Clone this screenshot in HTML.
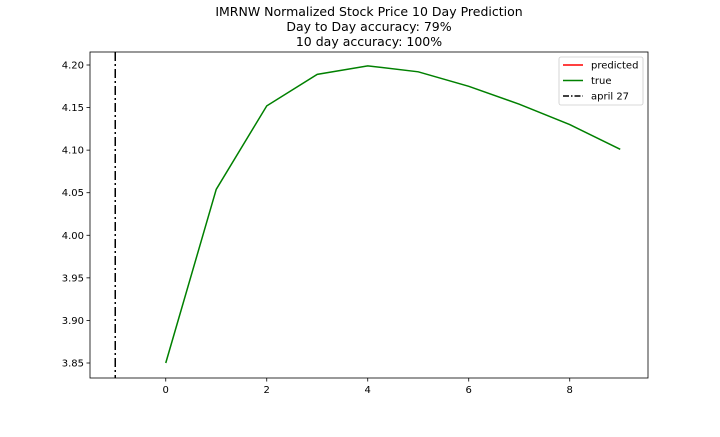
<!DOCTYPE html>
<html><head><meta charset="utf-8">
<style>
body{margin:0;background:#fff;}
svg text{font-family:"DejaVu Sans","Liberation Sans",sans-serif;fill:#000;}
</style></head>
<body>
<svg id="chart" width="720" height="432" xmlns="http://www.w3.org/2000/svg">
<rect width="720" height="432" fill="#fff"/>
<g font-size="12.5" text-anchor="middle">
<text x="369" y="16">IMRNW Normalized Stock Price 10 Day Prediction</text>
<text x="369" y="31">Day to Day accuracy: 79%</text>
<text x="369" y="46">10 day accuracy: 100%</text>
</g>
<g id="plot"></g>
</svg>
<script>
const days=[0,1,2,3,4,5,6,7,8,9];
const trueVals=[3.85,4.054,4.152,4.189,4.199,4.192,4.175,4.154,4.130,4.101];
const predVals=[];
const aprilX=-1;
const xTicks=[0,2,4,6,8];
const yTicks=[3.85,3.90,3.95,4.00,4.05,4.10,4.15,4.20];
const L=90,R=648,T=52,B=378;
const xMin=-1.5,xMax=9.55;
const xs=v=>L+(v-xMin)/(xMax-xMin)*(R-L);
const ys=v=>363-(v-3.85)/0.35*298;
const NS="http://www.w3.org/2000/svg";
const g=document.getElementById('plot');
function mk(t,a,p){const e=document.createElementNS(NS,t);for(const k in a)e.setAttribute(k,a[k]);(p||g).appendChild(e);return e;}
const frame=mk('rect',{x:L,y:T,width:R-L,height:B-T,fill:'none',stroke:'#000','stroke-width':0.8});


xTicks.forEach(v=>{
 const x=xs(v);
 const tk=mk('line',{x1:x,x2:x,y1:B,y2:B+3.5,stroke:'#000','stroke-width':0.8});
 
 
 const tx=mk('text',{x:x,y:B+15,'font-size':10,'text-anchor':'middle'});tx.textContent=v;
 
 
});
yTicks.forEach(v=>{
 const y=ys(v);
 const tk=mk('line',{x1:L-3.5,x2:L,y1:y,y2:y,stroke:'#000','stroke-width':0.8});
 
 
 const tx=mk('text',{x:L-6,y:y+3.5,'font-size':10,'text-anchor':'end'});tx.textContent=v.toFixed(2);
 
 
});
const ap=mk('line',{x1:xs(aprilX),x2:xs(aprilX),y1:T,y2:B,stroke:'#000','stroke-width':1.5,'stroke-dasharray':'9,3,2,3'});


if(predVals.length){
 const pp=mk('polyline',{points:predVals.map((v,i)=>xs(days[i])+','+ys(v)).join(' '),fill:'none',stroke:'red','stroke-width':1.5});
 
 
}
const tl=mk('polyline',{points:trueVals.map((v,i)=>xs(days[i])+','+ys(v)).join(' '),fill:'none',stroke:'green','stroke-width':1.5});


const lg=mk('g',{});


mk('rect',{x:559,y:57,width:84,height:48,rx:2,fill:'#fff',stroke:'#ccc','stroke-width':0.8},lg);
const items=[['predicted','red',null],['true','green',null],['april 27','#000','6,2,1.5,2']];
items.forEach((it,i)=>{
 const y=65+i*15.5;
 const a={x1:563,x2:583,y1:y,y2:y,stroke:it[1],'stroke-width':1.5};
 if(it[2])a['stroke-dasharray']=it[2];
 mk('line',a,lg);
 const t=mk('text',{x:591,y:y+3.5,'font-size':10},lg);t.textContent=it[0];
 
 
});
</script>
</body></html>
